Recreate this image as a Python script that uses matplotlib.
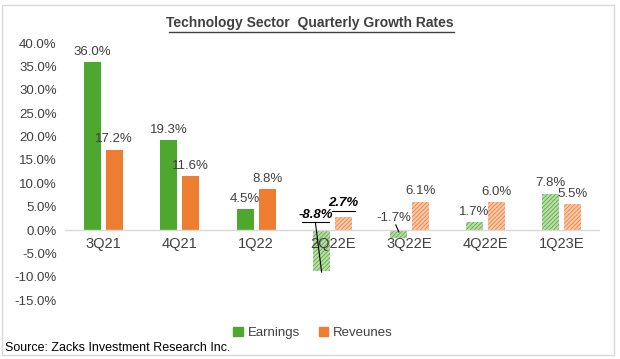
import matplotlib
matplotlib.use("Agg")
import matplotlib.pyplot as plt
import numpy as np
from matplotlib.patches import Patch

plt.rcParams['font.family'] = ['Liberation Sans', 'DejaVu Sans']
plt.rcParams['hatch.linewidth'] = 0.5

categories = ["3Q21", "4Q21", "1Q22", "2Q22E", "3Q22E", "4Q22E", "1Q23E"]
earnings = [36.0, 19.3, 4.5, -8.8, -1.7, 1.7, 7.8]
revenues = [17.2, 11.6, 8.8, 2.7, 6.1, 6.0, 5.5]
estimate = [False, False, False, True, True, True, True]
yticks = [-15, -10, -5, 0, 5, 10, 15, 20, 25, 30, 35, 40]

green = "#4EA72E"
orange = "#ED7D31"
green_l = "#B9DBA9"
orange_l = "#F6C6A7"
txt = "#404040"

fig = plt.figure(figsize=(6.2, 3.59), dpi=100)
ax = fig.add_axes([0.105, 0.164, 0.863, 0.716])

x = np.arange(len(categories))
w = 0.223
gap = 0.065
eoff = -(w / 2 + gap / 2)
roff = (w / 2 + gap / 2)
for i in x:
    for val, off, col, lcol in [(earnings[i], eoff, green, green_l),
                                (revenues[i], roff, orange, orange_l)]:
        if estimate[i]:
            ax.bar(i + off, val, w, color=lcol, edgecolor=col, hatch='////////', linewidth=0)
        else:
            ax.bar(i + off, val, w, color=col, linewidth=0)

ax.axhline(0, color="#D9D9D9", lw=1, zorder=3)
ax.set_xlim(-0.5, len(categories) - 0.5)
ax.set_ylim(-15, 40)
ax.set_yticks(yticks)
ax.set_yticklabels([f"{v:.1f}%" for v in yticks], fontsize=9.5, color=txt)
ax.set_xticks([])
for s in ax.spines.values():
    s.set_visible(False)
ax.tick_params(axis='y', length=0, pad=6)

for i, c in enumerate(categories):
    ax.annotate(c, (i, 0), xytext=(0, -10), textcoords='offset points',
                ha='center', va='center', fontsize=10.5, color=txt, zorder=5)

for i in x:
    if i == 3:
        ax.text(i + eoff - 0.08, 2.0, f"{earnings[i]:.1f}%", ha='center', va='bottom',
                fontsize=9.5, color='black', fontweight='bold', style='italic', zorder=6)
        ax.plot([i + eoff - 0.255, i + eoff + 0.09], [1.8, 1.8], color='black', lw=0.8, zorder=6)
        ax.plot([i + eoff - 0.08, i + eoff], [1.4, earnings[i] - 0.2], color='black', lw=0.8, zorder=6)
        ax.text(i + roff, 4.4, f"{revenues[i]:.1f}%", ha='center', va='bottom',
                fontsize=9.5, color='black', fontweight='bold', style='italic', zorder=6)
        ax.plot([i + roff - 0.15, i + roff + 0.15], [4.1, 4.1], color='black', lw=0.8, zorder=6)
        continue
    if i == 4:
        ax.text(i + eoff - 0.05, 1.3, f"{earnings[i]:.1f}%", ha='center', va='bottom',
                fontsize=9.5, color=txt, zorder=6)
        ax.plot([i + eoff - 0.03, i + eoff + 0.01], [1.1, earnings[i] + 1.3], color='black', lw=0.8, zorder=6)
    else:
        ax.text(i + eoff, earnings[i] + 0.9, f"{earnings[i]:.1f}%", ha='center', va='bottom',
                fontsize=9.5, color=txt)
    ax.text(i + roff, revenues[i] + 0.9, f"{revenues[i]:.1f}%", ha='center', va='bottom',
            fontsize=9.5, color=txt)

# title
fig.text(0.5, 0.935, "Technology Sector  Quarterly Growth Rates", ha='center', va='center',
         fontsize=10, fontweight='bold', color=txt)
fig.lines.append(plt.Line2D([0.272, 0.732], [0.912, 0.912], transform=fig.transFigure,
                            color=txt, lw=1))

# legend
handles = [Patch(color=green, label="Earnings"), Patch(color=orange, label="Reveunes")]
fig.legend(handles=handles, loc='center', bbox_to_anchor=(0.505, 0.072), ncol=2, frameon=False,
           fontsize=9.5, handlelength=0.7, handleheight=0.7, handletextpad=0.4, columnspacing=1.4,
           labelcolor=txt)

fig.text(0.008, 0.03, "Source: Zacks Investment Research Inc.", ha='left', va='center',
         fontsize=9, color='black')

# border
fig.patches.append(plt.Rectangle((0.003, 0.01), 0.988, 0.975, transform=fig.transFigure,
                                 fill=False, edgecolor="#D9D9D9", lw=1))

fig.savefig("out.png", dpi=100)
